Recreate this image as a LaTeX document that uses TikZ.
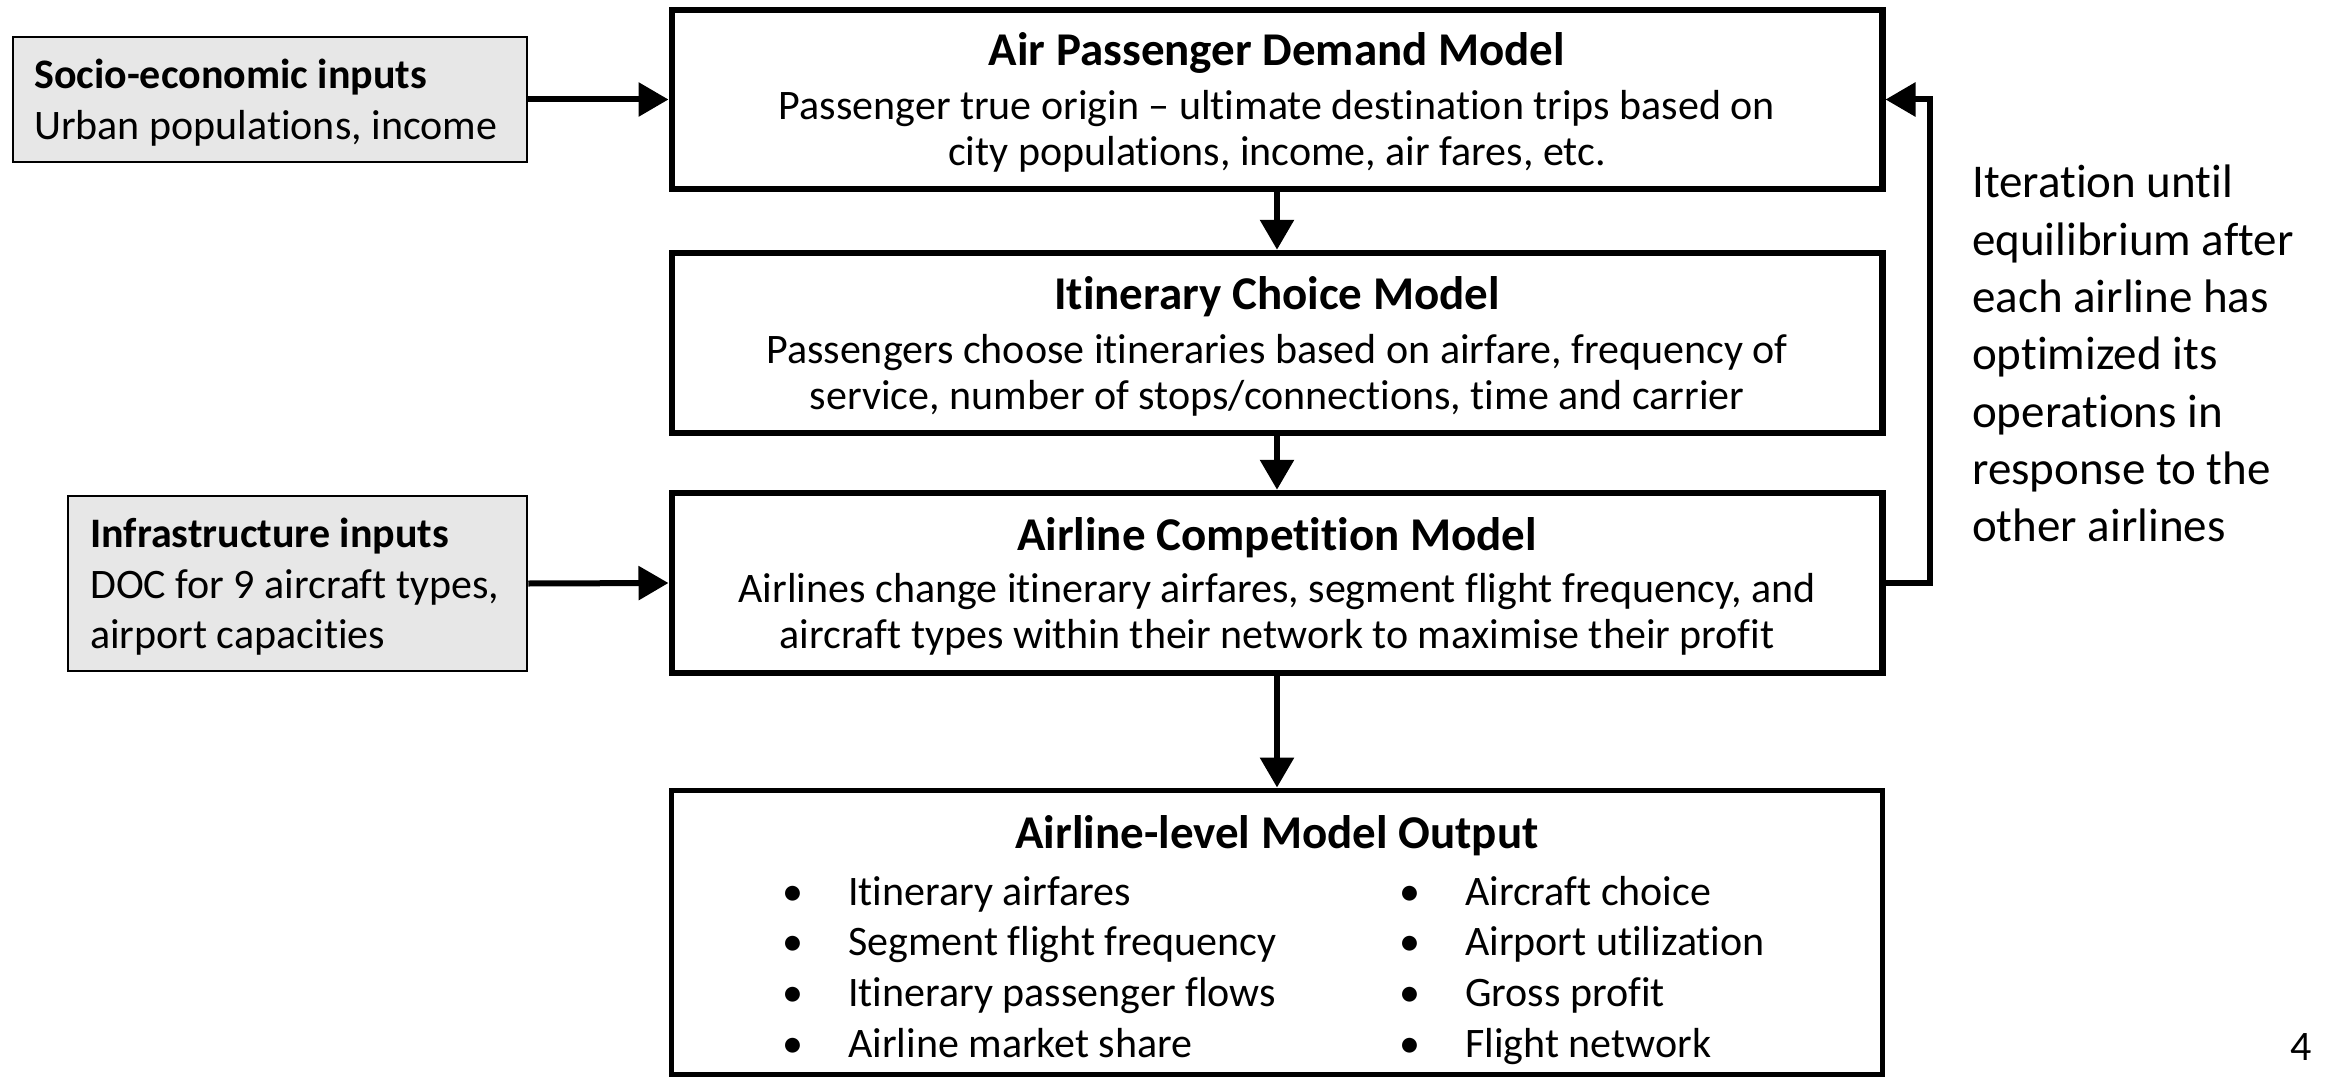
\documentclass[tikz,border=0pt]{standalone}
\usepackage{fontspec}
\setmainfont{Carlito}[Ligatures={NoCommon,NoRequired,NoContextual,NoRare}]
\newcommand{\zk}{\kern0pt{}}
\usetikzlibrary{arrows.meta}
\definecolor{boxgray}{RGB}{231,231,231}
\begin{document}
\begin{tikzpicture}[x=1pt,y=-1pt,
  mainbox/.style={draw=black, line width=6.5pt, minimum width=1210.5pt, inner sep=0pt},
  inbox/.style={draw=black, fill=boxgray, line width=2.5pt, inner sep=0pt},
  arr/.style={line width=6pt, line join=miter, -{Triangle[length=30pt,width=33pt]}},
  ttl/.style={font=\fontsize{47}{51}\selectfont\bfseries, anchor=base, inner sep=0pt},
  bod/.style={font=\fontsize{42}{46}\selectfont, anchor=base, inner sep=0pt},
  ltl/.style={font=\fontsize{42}{46}\selectfont\bfseries, anchor=base west, inner sep=0pt},
  lbod/.style={font=\fontsize{42}{46}\selectfont, anchor=base west, inner sep=0pt},
  itr/.style={font=\fontsize{47}{52}\selectfont, anchor=base west, inner sep=0pt},
  bul/.style={font=\fontsize{42}{46}\selectfont, anchor=base, inner sep=0pt}
]
\useasboundingbox (0,0) rectangle (2328,1078);

% boxes
\node[mainbox, minimum height=179pt] (demand) at (1277,99.5) {};
\node[mainbox, minimum height=180pt] (itin) at (1277,343) {};
\node[mainbox, minimum height=180pt] (comp) at (1277,583) {};
\node[mainbox, line width=5pt, minimum height=284pt] (out) at (1277,932) {};
\node[inbox, minimum width=514pt, minimum height=125pt] (socio) at (270,99.5) {};
\node[inbox, minimum width=459pt, minimum height=175pt] (infra) at (297.5,583.5) {};

% demand text
\node[ttl] (t1) at (1277,66) {Air Passenger Demand Model};
\node[bod] (b1a) at (1277,120) {Passenger true origin – ultimate destinat\zk ion trips based on};
\node[bod] (b1b) at (1277,166) {city populations, income, air fares, etc.};
% itinerary text
\node[ttl] (t2) at (1277,309) {Itinerary Choice Model};
\node[bod] (b2a) at (1277,363) {Passengers choose itineraries based on airfare, frequency of};
\node[bod] (b2b) at (1277,409) {service, number of stops/connect\zk ions, time and carrier};
% competition text
\node[ttl] (t3) at (1277,550) {Airline Competit\zk ion Model};
\node[bod] (b3a) at (1277,602) {Airlines change itinerary airfares, segment flight frequency, and};
\node[bod] (b3b) at (1277,648) {aircraft types within their network to maximise their profit};
% output text
\node[ttl] (t4) at (1277,848) {Airline-level Model Output};
\foreach \i/\a/\b [count=\k from 0] in {
  {Itinerary airfares}/{Aircraft choice},
  {Segment flight frequency}/{Airport utilizat\zk ion},
  {Itinerary passenger flows}/{Gross profit},
  {Airline market share}/{Flight network}} {
  \node[bul] (ba\k) at (793,905+50.7*\k) {•};
  \node[lbod] (la\k) at (848,905+50.7*\k) {\i};
  \node[bul] (bb\k) at (1410,905+50.7*\k) {•};
  \node[lbod] (lb\k) at (1465,905+50.7*\k) {\b};
}

% input boxes text
\node[ltl] (s1) at (34,89) {Socio-economic inputs};
\node[lbod] (s2) at (34,140) {Urban populat\zk ions, income};
\node[ltl] (i1) at (90,547) {Infrastructure inputs};
\node[lbod] (i2) at (90,598) {DOC for 9 aircraft types,};
\node[lbod] (i3) at (90,648) {airport capacit\zk ies};

% iteration note
\foreach \txt [count=\k from 0] in {Iterat\zk ion until, equilibrium after, each airline has, opt\zk imized its, operat\zk ions in, response to the, other airlines}
  \node[itr] (n\k) at (1972,198+57.3*\k) {\txt};

% page number
\node[lbod] (pg) at (2290,1060) {4};

% connectors
\coordinate (fb) at (1930,0);
\draw[arr] (socio.east) -- (demand.west);
\draw[arr] (infra.east) -- (comp.west);
\draw[arr] (demand.south) -- (itin.north);
\draw[arr] (itin.south) -- (comp.north);
\draw[arr] (comp.south) -- (out.north);
\draw[arr] (comp.east) -- (comp.east -| fb) |- (demand.east);
\end{tikzpicture}
\end{document}
